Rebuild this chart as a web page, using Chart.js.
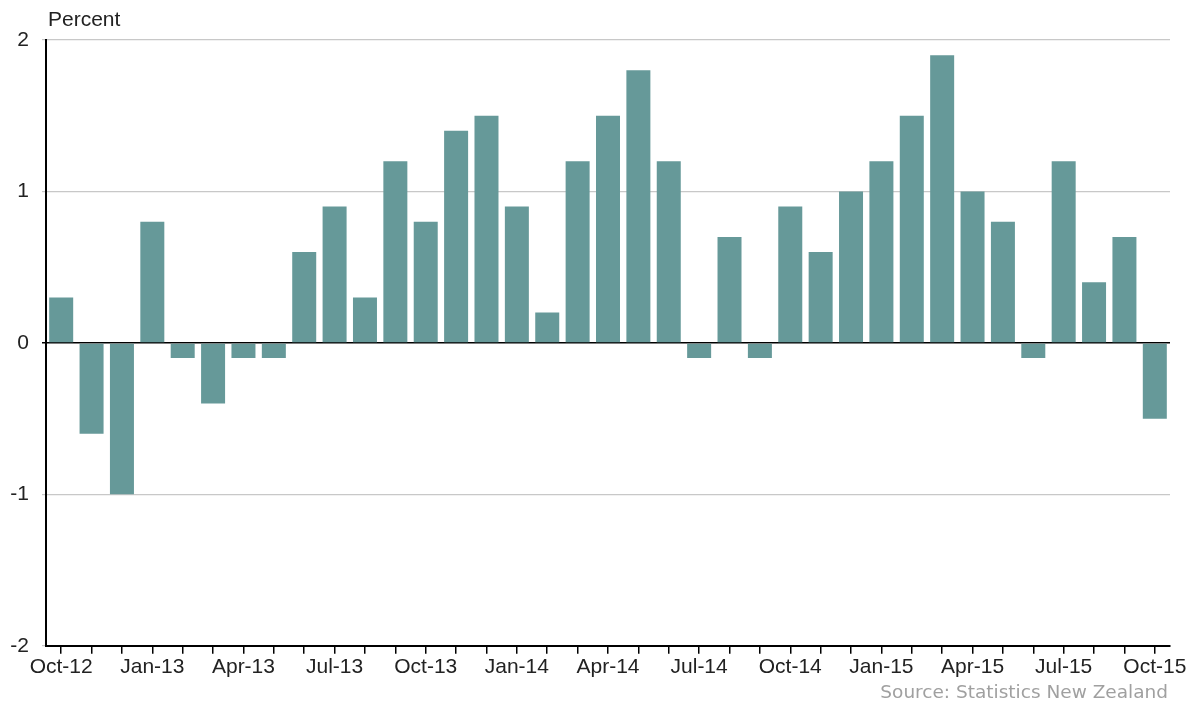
<!DOCTYPE html>
<html>
<head>
<meta charset="utf-8">
<script src="https://cdn.jsdelivr.net/npm/chart.js@4"></script>
<style>
  html, body { margin: 0; padding: 0; background: #fff; }
  #wrap { width: 1192px; height: 706px; position: relative; }
</style>
</head>
<body>
<div id="wrap"><canvas id="cpiChart" width="1192" height="706"></canvas></div>
<script>
// monthly months, Oct-12 .. Oct-15
const months = ['Oct-12','Nov-12','Dec-12','Jan-13','Feb-13','Mar-13','Apr-13','May-13','Jun-13',
  'Jul-13','Aug-13','Sep-13','Oct-13','Nov-13','Dec-13','Jan-14','Feb-14','Mar-14','Apr-14',
  'May-14','Jun-14','Jul-14','Aug-14','Sep-14','Oct-14','Nov-14','Dec-14','Jan-15','Feb-15',
  'Mar-15','Apr-15','May-15','Jun-15','Jul-15','Aug-15','Sep-15','Oct-15'];
const pctChange = [0.3, -0.6, -1.0, 0.8, -0.1, -0.4, -0.1, -0.1, 0.6,
  0.9, 0.3, 1.2, 0.8, 1.4, 1.5, 0.9, 0.2, 1.2, 1.5,
  1.8, 1.2, -0.1, 0.7, -0.1, 0.9, 0.6, 1.0, 1.2, 1.5,
  1.9, 1.0, 0.8, -0.1, 1.2, 0.4, 0.7, -0.5];
const yTicks = [-2, -1, 0, 1, 2];

const font = { family: 'Arial, "Liberation Sans", sans-serif', size: 21 };

// extra text : unit label and source line
const textPlugin = {
  id: 'extraText',
  afterDraw(chart) {
    const c = chart.ctx;
    c.save();
    c.fillStyle = '#222';
    c.font = '21px Arial, "Liberation Sans", sans-serif';
    c.textAlign = 'left';
    c.textBaseline = 'middle';
    c.fillText('Percent', 48, 20);
    c.fillStyle = '#a0a0a0';
    c.font = '18.5px Tahoma, "DejaVu Sans", sans-serif';
    c.textAlign = 'right';
    c.fillText('Source: Statistics New Zealand', 1168, 693);
    c.restore();
  }
};

new Chart(document.getElementById('cpiChart'), {
  type: 'bar',
  data: {
    labels: months,
    datasets: [{
      data: pctChange,
      backgroundColor: '#669999',
      borderWidth: 0,
      categoryPercentage: 1,
      barPercentage: 0.79
    }]
  },
  options: {
    responsive: false,
    animation: false,
    layout: { padding: { top: 40, right: 22, bottom: 25, left: 0 } },
    plugins: { legend: { display: false }, tooltip: { enabled: false } },
    scales: {
      x: {
        offset: true,
        border: { color: '#000', width: 2 },
        grid: { offset: false, drawOnChartArea: false, drawTicks: true, tickLength: 8, color: '#000', lineWidth: 1.5 },
        ticks: {
          autoSkip: false, maxRotation: 0, padding: 1, color: '#222', font: font,
          callback: (v, i) => (i % 3 === 0 ? months[i] : '')
        }
      },
      y: {
        min: -2, max: 2,
        afterBuildTicks: s => { s.ticks = yTicks.map(v => ({ value: v })); },
        afterFit: s => { s.width = 46; },
        border: { color: '#000', width: 2 },
        grid: {
          tickLength: 4,
          color: ctx => (ctx.tick && ctx.tick.value === 0 ? '#000' : '#c8c8c8'),
          lineWidth: ctx => (ctx.tick && ctx.tick.value === 0 ? 1.5 : 1.2)
        },
        ticks: { padding: 13, color: '#222', font: font }
      }
    }
  },
  plugins: [textPlugin]
});
</script>
</body>
</html>
